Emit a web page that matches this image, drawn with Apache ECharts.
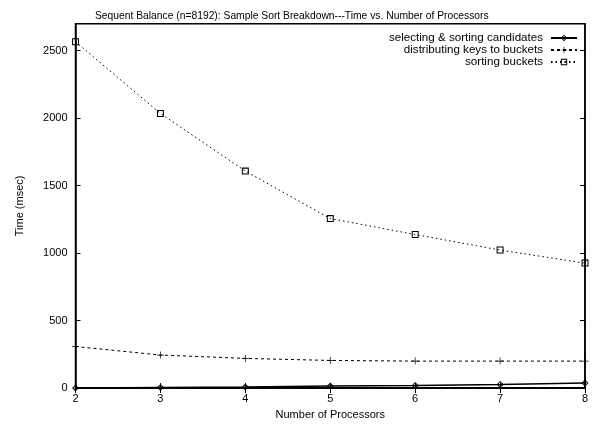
<!DOCTYPE html>
<html>
<head>
<meta charset="utf-8">
<script src="https://cdn.jsdelivr.net/npm/echarts@6/dist/echarts.min.js"></script>
<style>
  html, body { margin: 0; padding: 0; background: #fff; }
  #chart { width: 594px; height: 425px; }
</style>
</head>
<body>
<div id="chart"></div>
<script>
// Processor counts on the x axis
const processors = [2, 3, 4, 5, 6, 7, 8];

// Time per phase (msec)
const selectingCandidates = [1, 4, 8, 15, 20, 27, 37];
const distributingKeys = [308, 245, 220, 205, 200, 200, 200];
const sortingBuckets = [2566, 2035, 1608, 1256, 1138, 1023, 926];

const seriesNames = [
  'selecting & sorting candidates',
  'distributing keys to buckets',
  'sorting buckets'
];

const yTicks = [0, 500, 1000, 1500, 2000, 2500];

const FONT = '"Liberation Sans", Arial, Helvetica, sans-serif';
const pairs = (ys) => processors.map((x, i) => [x, ys[i]]);

const chart = echarts.init(document.getElementById('chart'), null, { renderer: 'canvas' });

// thin-stroke point shapes drawn as filled outlines
const plusPath = 'path://M4.5,0H5.5V10H4.5ZM0,4.5H10V5.5H0Z';
const squarePath = 'path://M0,0H10V10H0ZM1.5,1.5V8.5H8.5V1.5Z';
const diamondPath = 'path://M5,0L10,5L5,10L0,5ZM5,2L2,5L5,8L8,5Z M4,5L5,4L6,5L5,6Z';

const baseAxis = {
  axisLine: { show: true, lineStyle: { color: '#000', width: 1.5 } },
  axisTick: { show: true, inside: true, length: 5, lineStyle: { color: '#000', width: 1 } },
  splitLine: { show: false }
};

chart.setOption({
  animation: false,
  backgroundColor: '#fff',
  textStyle: { fontFamily: FONT },
  title: {
    text: 'Sequent Balance (n=8192): Sample Sort Breakdown---Time vs. Number of Processors',
    left: 90,
    top: 6,
    textStyle: { fontFamily: FONT, fontSize: 10.3, fontWeight: 'normal', color: '#000' }
  },
  legend: {
    orient: 'vertical',
    right: 16,
    top: 32,
    align: 'right',
    itemGap: 0,
    itemWidth: 26,
    itemHeight: 8,
    padding: 0,
    textStyle: { fontFamily: FONT, fontSize: 11.6, lineHeight: 12, color: '#000', padding: [0, 3, 0, 0] },
    data: seriesNames
  },
  grid: {
    left: 75.5,
    right: 9,
    top: 23.7,
    bottom: 34.7,
    show: true,
    borderColor: '#000',
    borderWidth: 1.5
  },
  xAxis: [
    Object.assign({}, baseAxis, {
      type: 'value',
      min: 2,
      max: 8,
      interval: 1,
      name: 'Number of Processors',
      nameLocation: 'middle',
      nameGap: 18,
      nameTextStyle: { fontFamily: FONT, fontSize: 11, color: '#000' },
      axisLabel: { color: '#000', fontSize: 11, fontFamily: FONT, margin: 5 }
    }),
    Object.assign({}, baseAxis, {
      type: 'value',
      position: 'top',
      min: 2,
      max: 8,
      interval: 1,
      axisLabel: { show: false }
    })
  ],
  yAxis: [
    Object.assign({}, baseAxis, {
      type: 'value',
      min: 0,
      max: 2700,
      interval: 500,
      name: 'Time (msec)',
      nameLocation: 'middle',
      nameGap: 50,
      nameTextStyle: { fontFamily: FONT, fontSize: 11, color: '#000' },
      axisLabel: {
        color: '#000', fontSize: 11, fontFamily: FONT, margin: 8,
        formatter: (v) => (yTicks.indexOf(v) >= 0 ? String(v) : '')
      }
    }),
    Object.assign({}, baseAxis, {
      type: 'value',
      position: 'right',
      min: 0,
      max: 2700,
      interval: 500,
      axisLabel: { show: false }
    })
  ],
  series: [
    {
      name: seriesNames[0],
      type: 'line',
      data: pairs(selectingCandidates),
      symbol: diamondPath,
      symbolSize: 7,
      lineStyle: { color: '#000', width: 1.5, type: 'solid' },
      itemStyle: { color: '#000', borderWidth: 0 }
    },
    {
      name: seriesNames[1],
      type: 'line',
      data: pairs(distributingKeys),
      symbol: plusPath,
      symbolSize: 7,
      lineStyle: { color: '#000', width: 1, type: [3, 3] },
      itemStyle: { color: '#000', borderWidth: 0 }
    },
    {
      name: seriesNames[2],
      type: 'line',
      data: pairs(sortingBuckets),
      symbol: squarePath,
      symbolSize: 7,
      lineStyle: { color: '#000', width: 1, type: [1.5, 3] },
      itemStyle: { color: '#000', borderWidth: 0 }
    }
  ]
});
</script>
</body>
</html>
